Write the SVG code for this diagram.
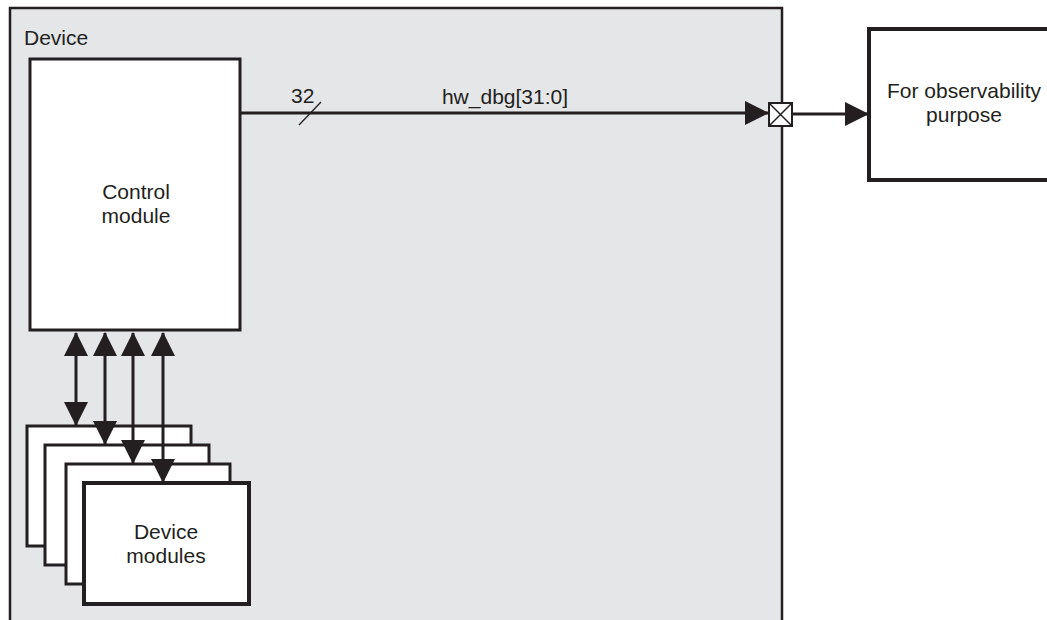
<svg xmlns="http://www.w3.org/2000/svg" width="1047" height="620" viewBox="0 0 1047 620">
<style>
  text { font-family: "Liberation Sans", Arial, sans-serif; font-size: 21px; fill: #231f20; }
  .box { fill: #ffffff; stroke: #231f20; stroke-width: 3; }
  .thick { fill: #ffffff; stroke: #231f20; stroke-width: 4; }
  .wire { fill: none; stroke: #231f20; stroke-width: 3; }
  .c { text-anchor: middle; }
</style>
<defs>
  <marker id="ah" viewBox="0 0 24 24" markerWidth="24" markerHeight="24" refX="23" refY="12" orient="auto" markerUnits="userSpaceOnUse">
    <path d="M0,0 L24,12 L0,24 Z" fill="#231f20"/>
  </marker>
  <marker id="ahs" viewBox="0 0 24 24" markerWidth="24" markerHeight="24" refX="23" refY="12" orient="auto-start-reverse" markerUnits="userSpaceOnUse">
    <path d="M0,0 L24,12 L0,24 Z" fill="#231f20"/>
  </marker>
</defs>
<rect width="1047" height="620" fill="#ffffff"/>
<g id="device">
  <rect x="10" y="8" width="772" height="620" fill="#e5e6e8" stroke="#231f20" stroke-width="2.5"/>
  <text x="24" y="45">Device</text>
</g>
<g id="control-module">
  <rect class="box" x="30" y="59" width="210" height="271"/>
  <text class="c" x="136" y="199">Control</text>
  <text class="c" x="136" y="223">module</text>
</g>
<g id="device-modules">
  <rect class="box" x="27" y="426" width="164" height="120"/>
  <rect class="box" x="45" y="445" width="164" height="120"/>
  <rect class="box" x="66" y="464" width="164" height="120"/>
  <rect class="thick" x="84" y="483" width="165" height="121"/>
  <text class="c" x="166" y="539">Device</text>
  <text class="c" x="166" y="563">modules</text>
</g>
<g id="observability">
  <rect class="thick" x="869" y="29" width="200" height="151"/>
  <text class="c" x="964" y="98">For observability</text>
  <text class="c" x="964" y="122">purpose</text>
</g>
<g id="pad">
  <rect x="769" y="103" width="23" height="23" fill="#ffffff" stroke="#231f20" stroke-width="2"/>
  <path d="M769,103 L792,126 M792,103 L769,126" stroke="#231f20" stroke-width="1.5" fill="none"/>
</g>
<g id="connectors">
  <line class="wire" x1="240" y1="113" x2="768" y2="113" marker-end="url(#ah)"/>
  <line x1="299" y1="125" x2="321" y2="102" stroke="#231f20" stroke-width="1.3"/>
  <text x="291" y="103">32</text>
  <text class="c" x="505" y="104">hw_dbg[31:0]</text>
  <line class="wire" x1="792" y1="114" x2="868" y2="114" marker-end="url(#ah)"/>
  <line class="wire" x1="76" y1="333" x2="76" y2="425" marker-start="url(#ahs)" marker-end="url(#ahs)"/>
  <line class="wire" x1="105" y1="333" x2="105" y2="444" marker-start="url(#ahs)" marker-end="url(#ahs)"/>
  <line class="wire" x1="133" y1="333" x2="133" y2="463" marker-start="url(#ahs)" marker-end="url(#ahs)"/>
  <line class="wire" x1="163" y1="333" x2="163" y2="482" marker-start="url(#ahs)" marker-end="url(#ahs)"/>
</g>
</svg>
